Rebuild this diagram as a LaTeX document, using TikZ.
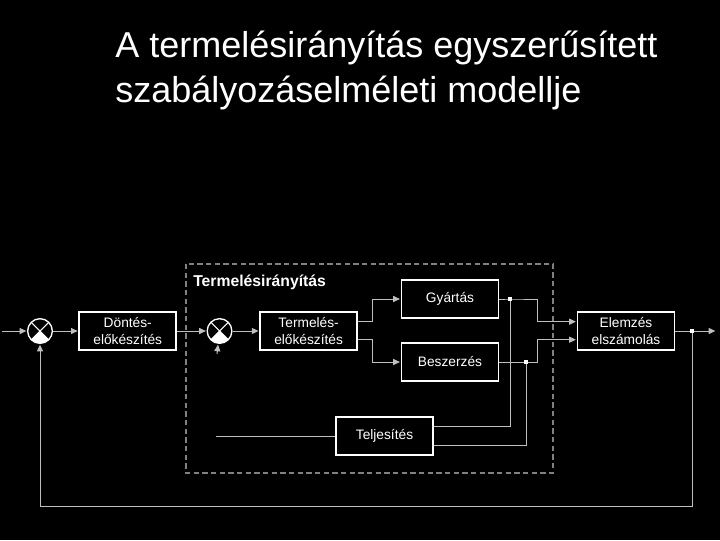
\documentclass[tikz,border=0pt]{standalone}
\usepackage{fontspec}
\setmainfont{Liberation Sans}
\usepackage{tikz}
\usetikzlibrary{positioning}
\usetikzlibrary{calc}
\usetikzlibrary{arrows.meta}

\tikzset{
  blokk/.style={draw=white, line width=1.4pt, minimum width=72.75pt, minimum height=29pt,
    align=center, inner sep=0pt, text=white, font=\fontsize{10.3}{12.2}\selectfont},
  summa/.style={circle, draw=white, line width=1pt, minimum size=18.5pt, inner sep=0pt,
    path picture={
      \fill[white] (path picture bounding box.center) -- (path picture bounding box.south west)
        -- (path picture bounding box.south east) -- cycle;
      \draw[white, line width=0.8pt] (path picture bounding box.north west) -- (path picture bounding box.south east);
      \draw[white, line width=0.8pt] (path picture bounding box.north east) -- (path picture bounding box.south west);
    }},
  jel/.style={draw=lightgray, line width=0.75pt},
  nyil/.style={jel, -{Triangle[length=5pt,width=4.5pt]}, shorten >=0.5pt},
  pont/.style={fill=white, minimum size=3.5pt, inner sep=0pt},
}

\begin{document}
\begin{tikzpicture}[x=0.75pt, y=-0.75pt]
    \fill[black] (0,0) rectangle (720,540);
    \useasboundingbox (0,0) rectangle (720,540);

    % cim
    \node[anchor=base west, inner sep=0pt, text=white, font=\fontsize{27}{34}\selectfont] (cim1) at (115,57) {A termelésirányítás egyszerűsített};
    \node[anchor=base west, inner sep=0pt, text=white, font=\fontsize{27}{34}\selectfont] (cim2) at (115,102) {szabályozáselméleti modellje};

    % keret
    \draw[gray, line width=0.9pt, dash pattern=on 4pt off 2.5pt] (186,264) rectangle (553,473);
    \node[anchor=base west, inner sep=0pt, text=white, font=\bfseries\fontsize{11.8}{14}\selectfont] (felirat) at (193,286) {Termelésirányítás};

    \node[summa] (s1) at (40,331) {};
    \node[blokk, right=19pt of s1] (dontes) {Döntés-\\előkészítés};
    \node[summa, right=22pt of dontes] (s2) {};
    \node[blokk, right=20pt of s2] (termeles) {Termelés-\\előkészítés};
    \node[blokk] (gyartas) at (450,299) {Gyártás};
    \node[blokk] (beszerzes) at (450,362) {Beszerzés};
    \node[blokk] (teljesites) at (384.5,436) {Teljesítés};
    \node[blokk] (elemzes) at (626,331) {Elemzés\\elszámolás};

    \coordinate (be) at (2,331);
    \coordinate (ki) at (716,331);
    \coordinate (tbe) at (216,436);
    \coordinate (s2be) at (217,354);

    \draw[nyil] (be) -- (s1);
    \draw[nyil] (s1) -- (dontes);
    \draw[nyil] (dontes) -- (s2);
    \draw[nyil] (s2be) -- (s2);
    \draw[nyil] (s2) -- (termeles);

    \draw[nyil] ([yshift=7pt]termeles.east) -- ++(14,0) |- (gyartas.west);
    \draw[nyil] ([yshift=-6.5pt]termeles.east) -- ++(14,0) |- (beszerzes.west);

    \node[pont] (p1) at (510,299) {};
    \node[pont] (p2) at (526,362) {};
    \node[pont] (p3) at (692,331) {};

    \draw[nyil] (gyartas.east) -- (p1.center) -- ++(27,0) |- ([yshift=7pt]elemzes.west);
    \draw[nyil] (beszerzes.east) -- (p2.center) -- ++(11,0) |- ([yshift=-6.5pt]elemzes.west);
    \draw[jel] (p1.center) |- ([yshift=7.5pt]teljesites.east);
    \draw[jel] (p2.center) |- ([yshift=-6.75pt]teljesites.east);
    \draw[jel] (tbe) -- (teljesites);

    \draw[jel] (elemzes.east) -- (p3.center);
    \draw[nyil] (p3.center) -- (ki);
    \draw[nyil] (p3.center) -- ++(0,175) -| (s1.south);

    \node[pont] at (p1) {};
    \node[pont] at (p2) {};
    \node[pont] at (p3) {};
\end{tikzpicture}
\end{document}
